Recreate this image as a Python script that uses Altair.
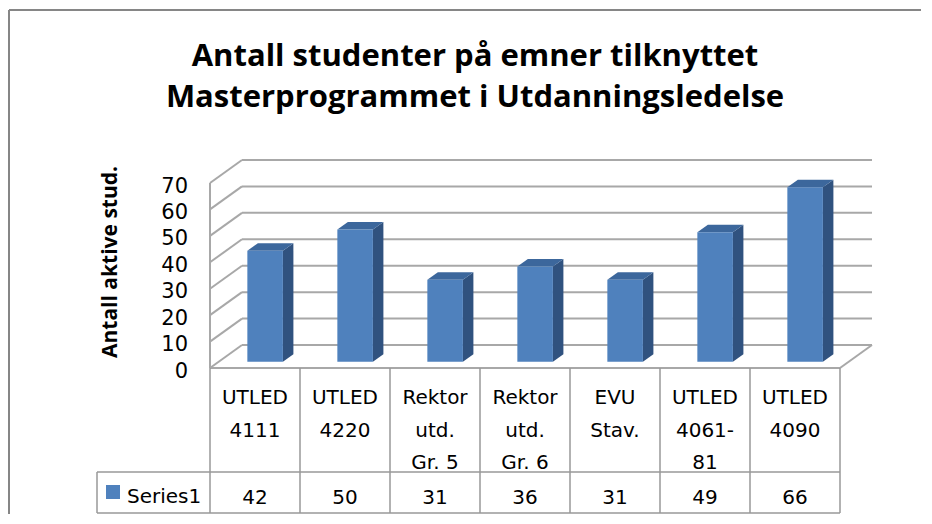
import altair as alt
import pandas as pd

# ---------------- data ----------------
categories = ["UTLED\n4111", "UTLED\n4220", "Rektor\nutd.\nGr. 5", "Rektor\nutd.\nGr. 6",
              "EVU\nStav.", "UTLED\n4061-\n81", "UTLED\n4090"]
values = [42, 50, 31, 36, 31, 49, 66]
series_name = "Series1"
y_ticks = [0, 10, 20, 30, 40, 50, 60, 70]
title_lines = ["Antall studenter på emner tilknyttet", "Masterprogrammet i Utdanningsledelse"]
y_title = "Antall aktive stud."

# ---------------- layout ----------------
W, H = 912, 504
PX_PER_COL = 90.0
PX_PER_UNIT = 185.0 / 70.0
ORIGIN_X = 201.0      # front-left floor corner (plot px)
ORIGIN_Y = 358.0


def U(px):
    return (px - ORIGIN_X) / PX_PER_COL


def V(py):
    return (ORIGIN_Y - py) / PX_PER_UNIT


n = len(categories)
DU, DV = 32 / PX_PER_COL, 23 / PX_PER_UNIT          # wall depth
BL, BR = 0.415, 0.81                                # bar front face within column
BASE = 2.4                                          # bar base (depth offset)
BDU, BDV = 10.5 / PX_PER_COL, 7.5 / PX_PER_UNIT     # bar depth
TOP_TICK = y_ticks[-1]

xs = alt.Scale(domain=[U(0), U(W)], nice=False, zero=False)
ys = alt.Scale(domain=[V(H), V(0)], nice=False, zero=False)


def X(f):
    return alt.X(f, type="quantitative", scale=xs, axis=None)


def Y(f):
    return alt.Y(f, type="quantitative", scale=ys, axis=None)


# gridlines / walls
grid = []
for t in y_ticks:
    grid.append(dict(x=DU, x2=n + DU, y=t + DV, y2=t + DV))
    grid.append(dict(x=0, x2=DU, y=t, y2=t + DV))
grid.append(dict(x=0, x2=n, y=0, y2=0))
grid.append(dict(x=n, x2=n + DU, y=0, y2=DV))
grid.append(dict(x=0, x2=0, y=0, y2=TOP_TICK))
grid_df = pd.DataFrame(grid)

# table lines
sep_v, bot_v, left_u = V(462), V(503), U(88)
tl = []
for i in range(n + 1):
    tl.append(dict(x=i, x2=i, y=0, y2=bot_v))
tl.append(dict(x=left_u, x2=n, y=sep_v, y2=sep_v))
tl.append(dict(x=left_u, x2=n, y=bot_v, y2=bot_v))
tl.append(dict(x=left_u, x2=left_u, y=sep_v, y2=bot_v))
table_df = pd.DataFrame(tl)

# bars
front_df = pd.DataFrame({
    "cat": categories,
    "x": [i + BL for i in range(n)],
    "x2": [i + BR for i in range(n)],
    "y": [BASE] * n,
    "y2": [BASE + v for v in values],
})
side = []
top = []
for i, (c, v) in enumerate(zip(categories, values)):
    side.append(dict(cat=c, u=i + BR, lo=BASE, hi=BASE + v))
    side.append(dict(cat=c, u=i + BR + BDU, lo=BASE + BDV, hi=BASE + v + BDV))
    top.append(dict(cat=c, v=BASE + v, xl=i + BL, xr=i + BR))
    top.append(dict(cat=c, v=BASE + v + BDV, xl=i + BL + BDU, xr=i + BR + BDU))
side_df = pd.DataFrame(side)
top_df = pd.DataFrame(top)

# texts
CAP = 0.729 * 20 / 2
cat_rows = []
for i, c in enumerate(categories):
    for j, line in enumerate(c.split("\n")):
        cat_rows.append(dict(u=i + 0.5, v=V(387 + 32.5 * j + CAP), t=line))
cat_df = pd.DataFrame(cat_rows)
val_df = pd.DataFrame({"u": [i + 0.5 for i in range(n)], "v": [V(487 + CAP)] * n,
                       "t": [str(v) for v in values]})
tick_df = pd.DataFrame({"u": [U(179)] * len(y_ticks), "v": y_ticks, "t": [str(t) for t in y_ticks]})
series_df = pd.DataFrame({"u": [U(118)], "v": [V(486 + CAP)], "t": [series_name]})
key_df = pd.DataFrame({"x": [U(97)], "x2": [U(111)], "y": [V(475)], "y2": [V(489)]})
ytitle_df = pd.DataFrame({"u": [U(101.5)], "v": [V(252)], "t": [y_title]})
title_df = pd.DataFrame({"u": [U(466)] * 2, "v": [V(56), V(97)], "t": title_lines})
border_df = pd.DataFrame([dict(x=U(0), x2=U(W), y=V(0), y2=V(0)),
                          dict(x=U(0), x2=U(0), y=V(0), y2=V(H))])

GRID_C = "#A8A8A8"
TABLE_C = "#999999"

layers = [
    alt.Chart(border_df).mark_rule(color="#868686", strokeWidth=2).encode(
        x=X("x"), x2="x2", y=Y("y"), y2="y2"),
    alt.Chart(grid_df).mark_rule(color=GRID_C, strokeWidth=2).encode(
        x=X("x"), x2="x2", y=Y("y"), y2="y2"),
    alt.Chart(table_df).mark_rule(color=TABLE_C, strokeWidth=1.5).encode(
        x=X("x"), x2="x2", y=Y("y"), y2="y2"),
    alt.Chart(side_df).mark_area(orient="vertical", color="#30527F").encode(
        x=X("u"), y=alt.Y("lo:Q", scale=ys, axis=None, stack=None), y2="hi", detail="cat:N"),
    alt.Chart(top_df).mark_area(orient="horizontal", color="#3C679C").encode(
        y=Y("v"), x=alt.X("xl:Q", scale=xs, axis=None, stack=None), x2="xr", detail="cat:N"),
    alt.Chart(front_df).mark_rect(color="#4F81BD").encode(
        x=X("x"), x2="x2", y=Y("y"), y2="y2"),
    alt.Chart(cat_df).mark_text(font="DejaVu Sans", fontSize=20, baseline="alphabetic",
                                align="center", color="black").encode(
        x=X("u"), y=Y("v"), text="t:N"),
    alt.Chart(val_df).mark_text(font="DejaVu Sans", fontSize=20, baseline="alphabetic",
                                align="center", color="black").encode(
        x=X("u"), y=Y("v"), text="t:N"),
    alt.Chart(series_df).mark_text(font="DejaVu Sans", fontSize=20, baseline="alphabetic",
                                   align="left", color="black").encode(
        x=X("u"), y=Y("v"), text="t:N"),
    alt.Chart(key_df).mark_rect(color="#4F81BD").encode(
        x=X("x"), x2="x2", y=Y("y"), y2="y2"),
    alt.Chart(tick_df).mark_text(font="DejaVu Sans", fontSize=21, baseline="alphabetic",
                                 align="right", dy=9.6, color="black").encode(
        x=X("u"), y=Y("v"), text="t:N"),
    alt.Chart(ytitle_df).mark_text(font="Open Sans", fontSize=21, fontWeight="bold", angle=270,
                                   baseline="middle", align="center", color="black").encode(
        x=X("u"), y=Y("v"), text="t:N"),
    alt.Chart(title_df).mark_text(font="Open Sans", fontSize=31, fontWeight="bold",
                                  baseline="alphabetic", align="center", color="black").encode(
        x=X("u"), y=Y("v"), text="t:N"),
]

chart = alt.layer(*layers).properties(
    width=W, height=H,
    autosize=alt.AutoSizeParams(type="none"),
    padding={"left": 1, "top": 2, "right": 0, "bottom": 0},
).configure_view(stroke=None).configure(background="white")

chart.save("out.html", embed_options={"renderer": "svg", "actions": False})
